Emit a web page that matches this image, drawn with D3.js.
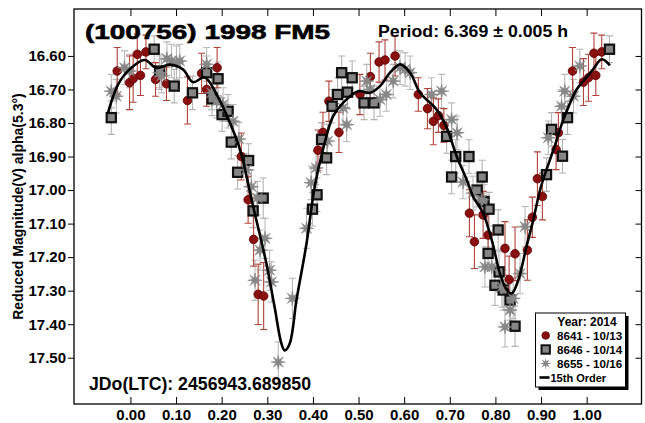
<!DOCTYPE html>
<html>
<head>
<meta charset="utf-8">
<script src="https://cdn.jsdelivr.net/npm/d3@7"></script>
<style>
  body { margin: 0; background: #fff; }
  text { font-family: "Liberation Sans", Arial, sans-serif; font-weight: bold; fill: #000; }
</style>
</head>
<body>
<svg id="chart" width="645" height="423"></svg>
<script>
// Axis ticks
const xTickValues = [0.0, 0.1, 0.2, 0.3, 0.4, 0.5, 0.6, 0.7, 0.8, 0.9, 1.0];
const yTickValues = [16.6, 16.7, 16.8, 16.9, 17.0, 17.1, 17.2, 17.3, 17.4, 17.5];

// Session 8641 - 10/13 (phase, reduced magnitude, error)
const s8641Phase = [-0.029, -0.002, 0.006, 0.015, 0.022, 0.034, 0.055, 0.079, 0.125, 0.156, 0.167, 0.190,
  0.243, 0.258, 0.270, 0.280, 0.292, 0.411, 0.422, 0.435, 0.457, 0.503, 0.526, 0.545, 0.558, 0.580,
  0.631, 0.651, 0.664, 0.675, 0.687, 0.743, 0.754, 0.773, 0.784, 0.821, 0.830, 0.843, 0.870, 0.881,
  0.892, 0.903, 0.933, 0.938, 0.969, 0.993, 1.004, 1.016, 1.020, 1.033];
const s8641Mag = [16.645, 16.680, 16.668, 16.595, 16.658, 16.588, 16.670, 16.683, 16.733, 16.652, 16.700, 16.635,
  16.900, 17.029, 17.147, 17.311, 17.316, 16.881, 16.828, 16.735, 16.828, 16.715, 16.662, 16.618, 16.612, 16.600,
  16.715, 16.757, 16.795, 16.778, 16.807, 17.069, 17.154, 17.074, 17.134, 17.174, 17.267, 17.190, 17.179, 17.081,
  16.966, 17.019, 16.879, 16.829, 16.645, 16.678, 16.665, 16.592, 16.658, 16.588];
const s8641Err = [0.07, 0.08, 0.07, 0.06, 0.06, 0.05, 0.05, 0.05, 0.07, 0.06, 0.05, 0.06,
  0.07, 0.07, 0.08, 0.09, 0.10, 0.06, 0.06, 0.06, 0.06, 0.06, 0.07, 0.06, 0.06, 0.06,
  0.05, 0.06, 0.07, 0.05, 0.05, 0.07, 0.08, 0.07, 0.07, 0.08, 0.07, 0.08, 0.09, 0.06,
  0.08, 0.07, 0.06, 0.06, 0.07, 0.07, 0.07, 0.06, 0.06, 0.05];

// Session 8646 - 10/14
const s8646Phase = [-0.042, 0.052, 0.064, 0.096, 0.136, 0.167, 0.192, 0.179, 0.201, 0.214, 0.221, 0.235,
  0.259, 0.291, 0.269, 0.409, 0.399, 0.419, 0.430, 0.463, 0.486, 0.454, 0.476, 0.442, 0.512, 0.534,
  0.693, 0.713, 0.742, 0.704, 0.771, 0.760, 0.775, 0.786, 0.806, 0.784, 0.808, 0.799, 0.817, 0.832,
  0.843, 0.958, 0.923, 0.947, 0.912, 1.050];
const s8646Mag = [16.784, 16.580, 16.645, 16.690, 16.710, 16.650, 16.668, 16.728, 16.775, 16.765, 16.857, 16.947,
  16.912, 17.024, 17.062, 17.014, 17.057, 16.849, 16.904, 16.650, 16.665, 16.715, 16.708, 16.750, 16.740, 16.740,
  16.840, 16.900, 16.900, 16.961, 16.961, 17.000, 17.034, 17.057, 17.119, 17.189, 17.244, 17.284, 17.298, 17.328,
  17.406, 16.784, 16.819, 16.899, 16.954, 16.580];
const s8646Err = [0.05, 0.04, 0.05, 0.05, 0.05, 0.05, 0.05, 0.05, 0.05, 0.05, 0.05, 0.05,
  0.05, 0.06, 0.05, 0.05, 0.05, 0.05, 0.05, 0.05, 0.05, 0.05, 0.05, 0.05, 0.05, 0.05,
  0.05, 0.05, 0.05, 0.05, 0.05, 0.05, 0.05, 0.05, 0.06, 0.05, 0.06, 0.06, 0.06, 0.06,
  0.06, 0.05, 0.05, 0.05, 0.05, 0.04];

// Session 8655 - 10/16
const s8655Phase = [-0.042, -0.031, -0.013, -0.002, 0.064, 0.068, 0.080, 0.090, 0.101, 0.108, 0.167, 0.178,
  0.189, 0.203, 0.225, 0.238, 0.254, 0.265, 0.278, 0.295, 0.284, 0.273, 0.309, 0.305, 0.355, 0.324,
  0.386, 0.396, 0.407, 0.432, 0.466, 0.474, 0.518, 0.525, 0.547, 0.561, 0.576, 0.591, 0.602, 0.613,
  0.660, 0.682, 0.704, 0.716, 0.729, 0.751, 0.770, 0.777, 0.792, 0.814, 0.839, 0.832, 0.821, 0.854,
  0.865, 0.916, 0.945, 0.985, 0.952, 0.971];
const s8655Mag = [16.705, 16.720, 16.635, 16.645, 16.650, 16.660, 16.608, 16.615, 16.620, 16.615, 16.625, 16.710,
  16.735, 16.745, 16.795, 16.848, 16.940, 16.990, 17.024, 17.144, 17.179, 17.269, 17.274, 17.239, 17.323, 17.513,
  17.114, 16.978, 16.934, 16.854, 16.755, 16.805, 16.675, 16.700, 16.730, 16.715, 16.675, 16.635, 16.640, 16.650,
  16.715, 16.705, 16.790, 16.829, 16.976, 17.009, 17.029, 17.229, 17.229, 17.289, 17.323, 17.358, 17.408, 17.249,
  17.109, 16.844, 16.750, 16.630, 16.705, 16.720];
const s8655Err = [0.05, 0.05, 0.05, 0.05, 0.05, 0.05, 0.05, 0.05, 0.05, 0.05, 0.05, 0.05,
  0.05, 0.05, 0.05, 0.05, 0.05, 0.05, 0.05, 0.06, 0.06, 0.06, 0.06, 0.06, 0.06, 0.06,
  0.06, 0.05, 0.05, 0.05, 0.05, 0.05, 0.05, 0.05, 0.05, 0.05, 0.05, 0.05, 0.05, 0.05,
  0.05, 0.05, 0.05, 0.05, 0.05, 0.05, 0.05, 0.06, 0.06, 0.06, 0.06, 0.06, 0.06, 0.06,
  0.06, 0.05, 0.05, 0.05, 0.05, 0.05];

// 15th-order Fourier fit, sampled along phase
const fitPhase = [-0.049, -0.027, -0.002, 0.031, 0.057, 0.086, 0.115, 0.137, 0.163, 0.189, 0.218, 0.240,
  0.269, 0.298, 0.316, 0.331, 0.338, 0.349, 0.364, 0.386, 0.404, 0.422, 0.444, 0.466, 0.499, 0.525,
  0.547, 0.569, 0.591, 0.613, 0.635, 0.671, 0.693, 0.715, 0.737, 0.751, 0.773, 0.792, 0.810, 0.825,
  0.836, 0.850, 0.868, 0.883, 0.898, 0.912, 0.930, 0.949, 0.978, 0.996, 1.014, 1.033, 1.051];
const fitMag = [16.769, 16.685, 16.640, 16.612, 16.636, 16.626, 16.640, 16.678, 16.664, 16.715, 16.799, 16.879,
  17.049, 17.219, 17.349, 17.458, 17.478, 17.458, 17.328, 17.159, 16.989, 16.879, 16.780, 16.740, 16.705, 16.710,
  16.690, 16.650, 16.625, 16.650, 16.710, 16.760, 16.813, 16.899, 16.969, 17.019, 17.069, 17.149, 17.249, 17.298,
  17.308, 17.269, 17.169, 17.089, 16.999, 16.939, 16.869, 16.790, 16.700, 16.670, 16.640, 16.610, 16.628];

const svg = d3.select("#chart");
const plot = { left: 74, right: 641.5, top: 9, bottom: 404 };

const x = d3.scaleLinear().domain([-0.1237, 1.1202]).range([plot.left, plot.right]);
const y = d3.scaleLinear().domain([16.46, 17.638]).range([plot.top, plot.bottom]);

const zip = (p, m, e) => p.map((v, i) => ({ p: v, m: m[i], e: e[i] }));
const d8641 = zip(s8641Phase, s8641Mag, s8641Err);
const d8646 = zip(s8646Phase, s8646Mag, s8646Err);
const d8655 = zip(s8655Phase, s8655Mag, s8655Err);

// Clip marks to the plotting area
svg.append("clipPath").attr("id", "clip")
  .append("rect").attr("x", plot.left).attr("y", plot.top)
  .attr("width", plot.right - plot.left).attr("height", plot.bottom - plot.top);
const g = svg.append("g").attr("clip-path", "url(#clip)");

// Error bars
function errorBars(data, color) {
  const cap = 3.5;
  const eb = g.append("g").attr("stroke", color).attr("stroke-width", 1.1).attr("fill", "none");
  data.forEach(d => {
    const cx = x(d.p), y1 = y(d.m - d.e), y2 = y(d.m + d.e);
    eb.append("line").attr("x1", cx).attr("x2", cx).attr("y1", y1).attr("y2", y2);
    eb.append("line").attr("x1", cx - cap).attr("x2", cx + cap).attr("y1", y1).attr("y2", y1);
    eb.append("line").attr("x1", cx - cap).attr("x2", cx + cap).attr("y1", y2).attr("y2", y2);
  });
}
errorBars(d8655, "#b9b9b9");
errorBars(d8646, "#b3b3b3");
errorBars(d8641, "#b0433a");

// Eight-pointed star path
function starPath(R, r) {
  const pts = [];
  for (let i = 0; i < 16; i++) {
    const a = Math.PI * i / 8 - Math.PI / 2;
    const rad = i % 2 === 0 ? R : r;
    pts.push([rad * Math.cos(a), rad * Math.sin(a)]);
  }
  return "M" + pts.map(p => p[0].toFixed(2) + "," + p[1].toFixed(2)).join("L") + "Z";
}
const STAR = starPath(7.2, 2.5);

// Circles
g.append("g").selectAll("circle").data(d8641).join("circle")
  .attr("cx", d => x(d.p)).attr("cy", d => y(d.m)).attr("r", 4.3)
  .attr("fill", "#8a0f0f").attr("stroke", "#5c0000").attr("stroke-width", 0.8);

// Squares
g.append("g").selectAll("rect").data(d8646).join("rect")
  .attr("x", d => x(d.p) - 4.6).attr("y", d => y(d.m) - 4.6)
  .attr("width", 9.2).attr("height", 9.2)
  .attr("fill", "#858585").attr("stroke", "#111").attr("stroke-width", 2.2);

// Stars
g.append("g").selectAll("path").data(d8655).join("path")
  .attr("transform", d => `translate(${x(d.p)},${y(d.m)})`)
  .attr("d", STAR).attr("fill", "#878787").attr("stroke", "#878787").attr("stroke-width", 0.6);

// Fit curve
const fit = fitPhase.map((p, i) => [p, fitMag[i]]);
g.append("path").datum(fit)
  .attr("fill", "none").attr("stroke", "#000").attr("stroke-width", 2.6)
  .attr("stroke-linejoin", "round")
  .attr("d", d3.line().x(d => x(d[0])).y(d => y(d[1])).curve(d3.curveCatmullRom.alpha(0.5)));

// Axes
const axisStyle = sel => {
  sel.selectAll(".domain").remove();
  sel.selectAll("line").attr("stroke", "#000").attr("stroke-width", 1);
  sel.selectAll("text").style("font-size", "15px").style("font-weight", "bold")
    .style("font-family", '"Liberation Sans", Arial, sans-serif').attr("fill", "#000");
};
svg.append("g").attr("transform", `translate(0,${plot.bottom})`)
  .call(d3.axisBottom(x).tickValues(xTickValues).tickFormat(d3.format(".2f")).tickSizeInner(-7).tickSizeOuter(0).tickPadding(5.5))
  .call(axisStyle);
svg.append("g").attr("transform", `translate(0,${plot.top})`)
  .call(d3.axisTop(x).tickValues(xTickValues).tickFormat("").tickSizeInner(-7).tickSizeOuter(0))
  .call(axisStyle);
svg.append("g").attr("transform", `translate(${plot.left},0)`)
  .call(d3.axisLeft(y).tickValues(yTickValues).tickFormat(d3.format(".2f")).tickSizeInner(6).tickSizeOuter(0).tickPadding(2))
  .call(axisStyle);
svg.append("g").attr("transform", `translate(${plot.right},0)`)
  .call(d3.axisRight(y).tickValues(yTickValues).tickFormat("").tickSizeInner(-6).tickSizeOuter(0))
  .call(axisStyle);

// Frame
svg.append("rect").attr("x", plot.left).attr("y", plot.top)
  .attr("width", plot.right - plot.left).attr("height", plot.bottom - plot.top)
  .attr("fill", "none").attr("stroke", "#000").attr("stroke-width", 1.3);

// Titles and annotations
svg.append("text").attr("x", 85).attr("y", 38.5)
  .attr("textLength", 245).attr("lengthAdjust", "spacingAndGlyphs")
  .style("font-size", "21px").attr("stroke", "#000").attr("stroke-width", 0.6)
  .text("(100756) 1998 FM5");
svg.append("text").attr("x", 378).attr("y", 37)
  .attr("textLength", 190).attr("lengthAdjust", "spacingAndGlyphs")
  .style("font-size", "17px").text("Period: 6.369 \u00b1 0.005 h");
svg.append("text").attr("x", 89).attr("y", 389.5)
  .attr("textLength", 222).attr("lengthAdjust", "spacingAndGlyphs")
  .style("font-size", "17.5px").text("JDo(LTC): 2456943.689850");
svg.append("text")
  .attr("transform", `translate(23,${(plot.top + plot.bottom) / 2}) rotate(-90)`)
  .attr("text-anchor", "middle").style("font-size", "14px")
  .text("Reduced Magnitude(V) alpha(5.3\u00b0)");

// Legend
const lg = svg.append("g");
const L = { x: 535.5, y: 313, w: 90, h: 74 };
lg.append("rect").attr("x", L.x + 3).attr("y", L.y + 3).attr("width", L.w).attr("height", L.h).attr("fill", "#000");
lg.append("rect").attr("x", L.x).attr("y", L.y).attr("width", L.w).attr("height", L.h)
  .attr("fill", "#fff").attr("stroke", "#000").attr("stroke-width", 1);
lg.append("text").attr("x", 587).attr("y", 326).attr("text-anchor", "middle")
  .style("font-size", "12px").text("Year: 2014");
const rows = ["8641 - 10/13", "8646 - 10/14", "8655 - 10/16", "15th Order"];
rows.forEach((label, i) => {
  const cy = 335.5 + i * 14;
  const sx = 545.7;
  if (i === 0) lg.append("circle").attr("cx", sx).attr("cy", cy).attr("r", 3.8).attr("fill", "#8a0f0f").attr("stroke", "#5c0000").attr("stroke-width", 0.8);
  if (i === 1) lg.append("rect").attr("x", sx - 4.2).attr("y", cy - 4.2).attr("width", 8.4).attr("height", 8.4)
    .attr("fill", "#858585").attr("stroke", "#111").attr("stroke-width", 2);
  if (i === 2) lg.append("path").attr("transform", `translate(${sx},${cy})`).attr("d", starPath(6, 2.1)).attr("fill", "#878787");
  if (i === 3) lg.append("line").attr("x1", 539.5).attr("x2", 549.5).attr("y1", cy).attr("y2", cy).attr("stroke", "#000").attr("stroke-width", 2.6);
  lg.append("text").attr("x", i === 3 ? 550.5 : 557).attr("y", cy + 4.3)
    .style("font-size", i === 3 ? "11px" : "11.6px").text(label);
});
</script>
</body>
</html>
